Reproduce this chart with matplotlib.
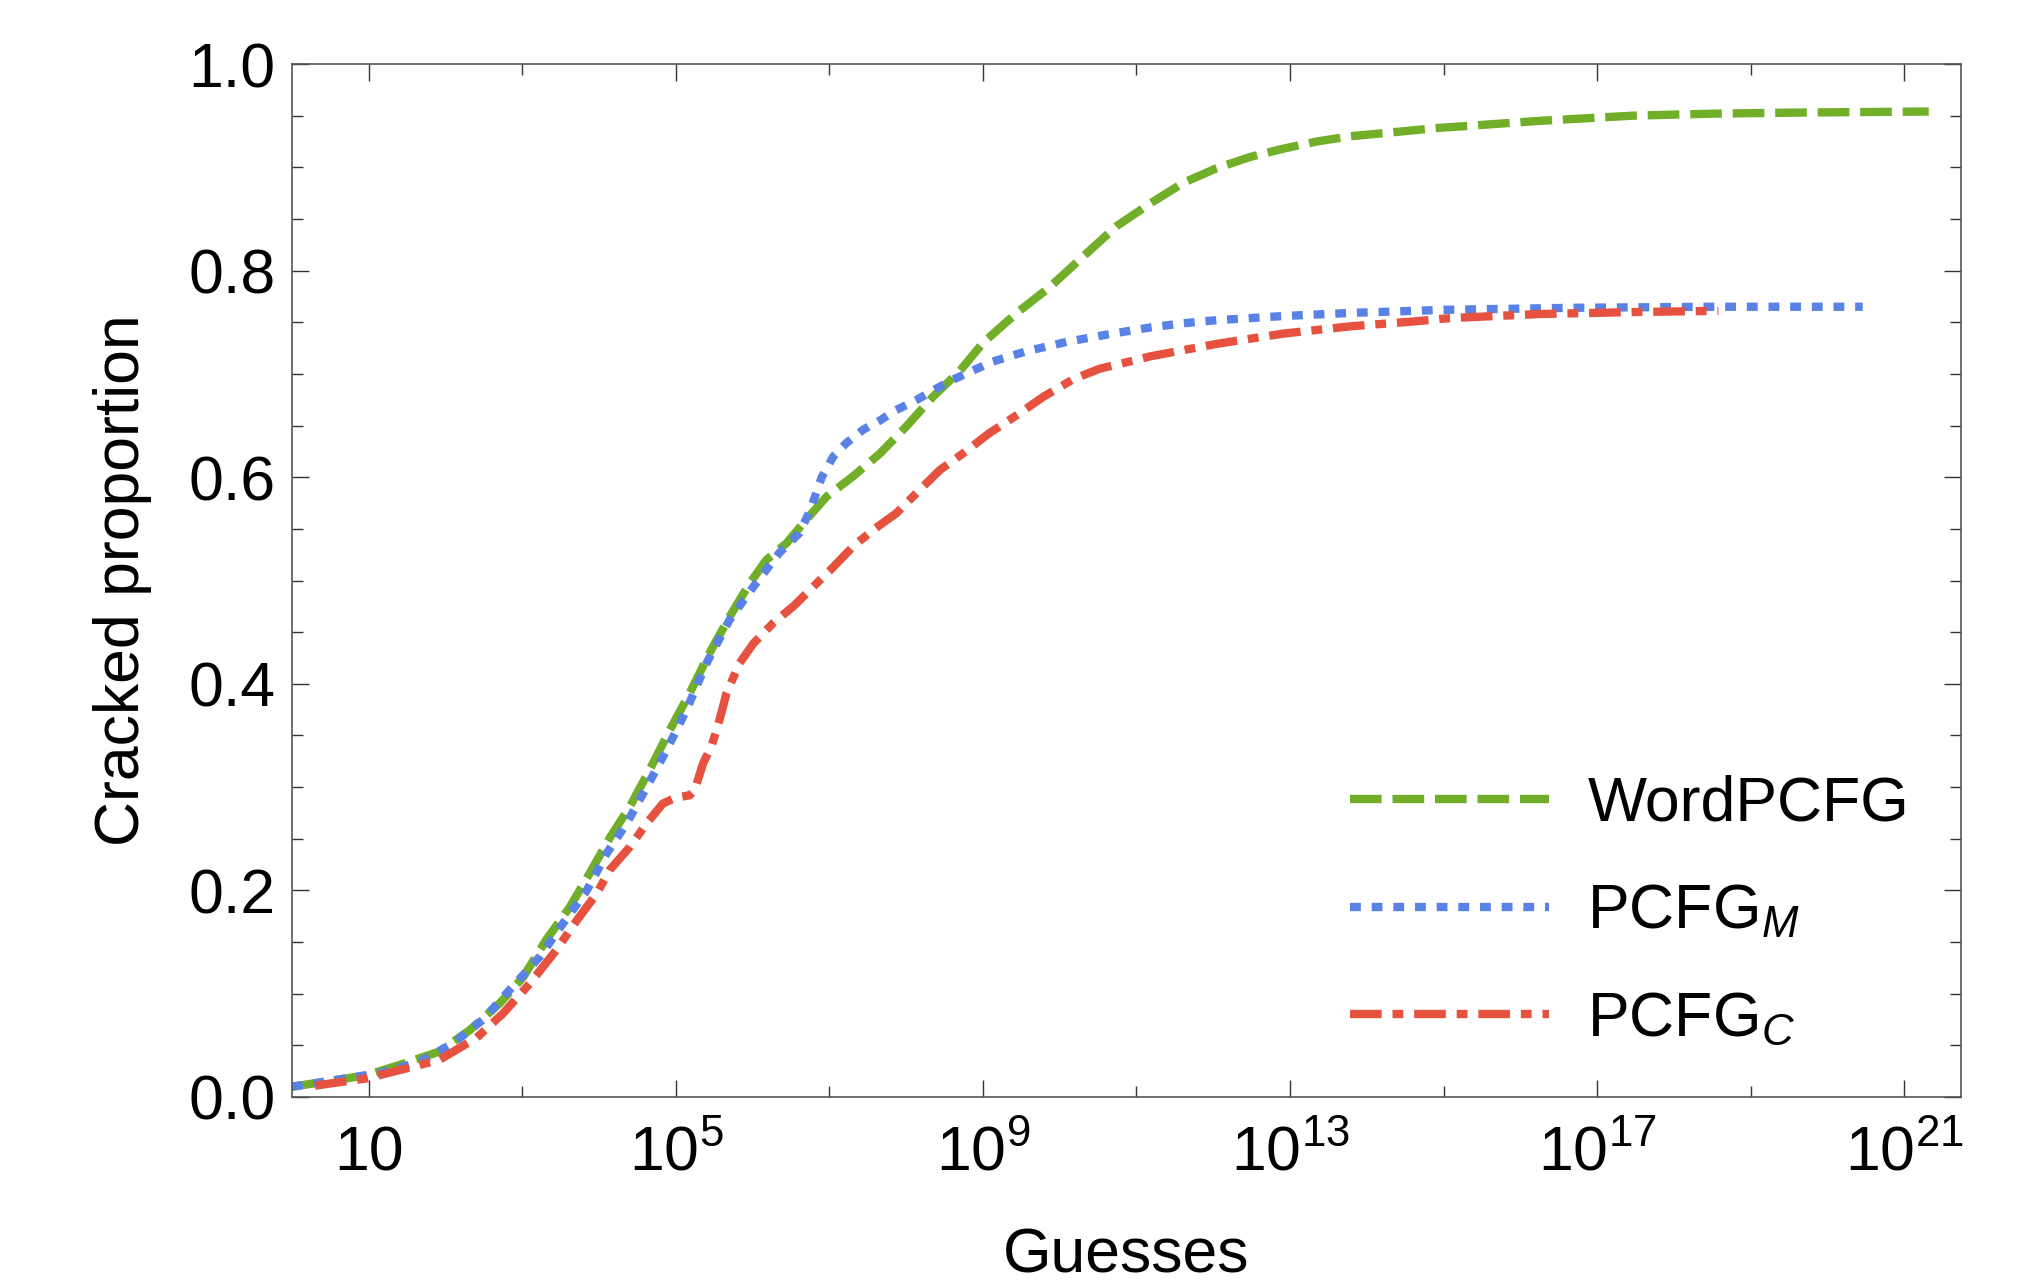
import numpy as np
import matplotlib
matplotlib.use("Agg")
import matplotlib.pyplot as plt
from matplotlib.ticker import FixedLocator, NullFormatter

plt.rcParams['font.family'] = ['Liberation Sans', 'DejaVu Sans']
plt.rcParams['mathtext.fontset'] = 'custom'
plt.rcParams['mathtext.rm'] = 'Liberation Sans'
plt.rcParams['mathtext.it'] = 'Liberation Sans:italic'
plt.rcParams['mathtext.bf'] = 'Liberation Sans:bold'

# ---- data (exponent of guesses, cracked proportion) ----
word_log_guesses = [0, 0.97, 1.40, 1.92, 2.32, 2.71, 3.01, 3.31, 3.62, 3.88, 4.14, 4.40,
                    4.66, 4.92, 5.18, 5.44, 5.70, 5.96, 6.18, 6.44, 6.70, 6.96, 7.31, 7.66,
                    8.00, 8.35, 8.70, 9.00, 9.44, 9.87, 10.31, 10.74, 11.18, 11.61, 12.04,
                    12.48, 12.91, 13.35, 13.78, 14.21, 14.91, 15.30, 16.26, 17.47, 18.56,
                    19.64, 21.32]
word_cracked = [0.010, 0.021, 0.031, 0.044, 0.065, 0.091, 0.116, 0.152, 0.184, 0.217, 0.251,
                0.281, 0.317, 0.355, 0.391, 0.430, 0.465, 0.497, 0.520, 0.536, 0.559, 0.581,
                0.601, 0.623, 0.649, 0.678, 0.703, 0.730, 0.759, 0.784, 0.814, 0.843, 0.865,
                0.885, 0.899, 0.910, 0.918, 0.925, 0.930, 0.933, 0.938, 0.940, 0.945, 0.950,
                0.952, 0.953, 0.954]

m_log_guesses = [0, 1.14, 1.66, 2.10, 2.49, 2.79, 3.23, 3.53, 3.84, 4.10, 4.36, 4.62, 4.88,
                 5.14, 5.40, 5.70, 6.01, 6.35, 6.61, 6.75, 6.90, 7.05, 7.22, 7.44, 7.66, 7.87,
                 8.14, 8.35, 8.57, 8.83, 9.13, 9.57, 10.09, 10.61, 11.18, 11.61, 12.04, 12.91,
                 13.78, 15.0, 16.69, 18.5, 20.46]
m_cracked = [0.010, 0.023, 0.034, 0.052, 0.075, 0.100, 0.136, 0.168, 0.200, 0.236, 0.265,
             0.300, 0.336, 0.375, 0.420, 0.462, 0.494, 0.527, 0.546, 0.568, 0.600, 0.620,
             0.633, 0.646, 0.655, 0.665, 0.675, 0.684, 0.693, 0.702, 0.712, 0.722, 0.731,
             0.738, 0.745, 0.749, 0.752, 0.756, 0.759, 0.762, 0.764, 0.765, 0.765]

c_log_guesses = [0.3, 0.97, 1.40, 1.92, 2.40, 2.75, 3.10, 3.44, 3.71, 3.97, 4.14, 4.40, 4.62,
                 4.83, 5.00, 5.18, 5.245, 5.355, 5.46, 5.53, 5.59, 5.66, 5.83, 6.01, 6.27,
                 6.53, 6.79, 7.05, 7.31, 7.57, 7.87, 8.18, 8.44, 8.74, 9.09, 9.44, 9.79, 10.18,
                 10.52, 10.91, 11.18, 11.61, 12.04, 12.91, 13.78, 14.65, 15.08, 16.26, 17.56,
                 18.58]
c_cracked = [0.011, 0.018, 0.026, 0.036, 0.057, 0.081, 0.110, 0.142, 0.171, 0.197, 0.220,
             0.242, 0.265, 0.284, 0.290, 0.292, 0.297, 0.323, 0.339, 0.355, 0.371, 0.391,
             0.420, 0.439, 0.459, 0.475, 0.494, 0.513, 0.533, 0.549, 0.565, 0.588, 0.607,
             0.623, 0.643, 0.660, 0.678, 0.695, 0.705, 0.712, 0.717, 0.723, 0.729, 0.739,
             0.746, 0.751, 0.754, 0.758, 0.760, 0.761]

series_labels = ['WordPCFG', 'PCFG$_{M}$', 'PCFG$_{C}$']
x_major_exps = [1, 5, 9, 13, 17, 21]
x_minor_exps = [3, 7, 11, 15, 19]
x_tick_labels = ['10', '$10^{5}$', '$10^{9}$', '$10^{13}$', '$10^{17}$', '$10^{21}$']
y_ticks = [0.0, 0.2, 0.4, 0.6, 0.8, 1.0]
y_tick_labels = ['0.0', '0.2', '0.4', '0.6', '0.8', '1.0']

# ---- figure ----
FS = 45
fig = plt.figure(figsize=(20.33, 12.85), dpi=100)
ax = fig.add_axes([292 / 2033, 1 - 1097 / 1285, (1961 - 292) / 2033, (1097 - 64) / 1285])

green = '#71AF28'
blue = '#5A82E6'
red = '#E6523F'
lw = 6.0

ax.plot(10.0 ** np.array(word_log_guesses), word_cracked, color=green, lw=lw,
        dashes=(3.8, 1.3), label=series_labels[0])
ax.plot(10.0 ** np.array(m_log_guesses), m_cracked, color=blue, lw=lw,
        dashes=(1.3, 1.3), label=series_labels[1])
ax.plot(10.0 ** np.array(c_log_guesses), c_cracked, color=red, lw=lw,
        dashes=(3.8, 1.3, 1.3, 1.3), label=series_labels[2])

ax.set_xscale('log')
ax.set_xlim(1, 10 ** 21.74)
ax.set_ylim(0, 1)

ax.xaxis.set_major_locator(FixedLocator([10.0 ** e for e in x_major_exps]))
ax.xaxis.set_minor_locator(FixedLocator([10.0 ** e for e in x_minor_exps]))
ax.xaxis.set_minor_formatter(NullFormatter())
ax.set_xticks([10.0 ** e for e in x_major_exps], x_tick_labels)
ax.set_yticks(y_ticks, y_tick_labels)
ax.yaxis.set_minor_locator(FixedLocator(list(np.arange(0.05, 1.0, 0.05))))

spine_col = '#555555'
for s in ax.spines.values():
    s.set_color(spine_col)
    s.set_linewidth(1.2)

ax.tick_params(which='both', direction='in', top=True, right=True, color='#333333',
               width=1.0, labelsize=FS)
ax.tick_params(which='major', length=12.5)
ax.tick_params(which='minor', length=8)
ax.tick_params(axis='x', which='major', pad=52.6)
ax.tick_params(axis='y', which='major', pad=12)
for lab in ax.get_xticklabels():
    lab.set_va('baseline')

ax.set_xlabel('Guesses', fontsize=FS)
ax.set_ylabel('Cracked proportion', fontsize=FS)
ax.xaxis.set_label_coords(0.5, -0.1250)
ax.yaxis.set_label_coords((152 - 292) / 1669, 0.5)

leg = ax.legend(loc='center left', bbox_to_anchor=((1350 - 292) / 1669, (1097 - 912) / 1033),
                frameon=False, fontsize=FS, handlelength=3.18, handletextpad=0.62,
                labelspacing=0.78, borderpad=0, borderaxespad=0)

fig.savefig('out.png', dpi=100)
